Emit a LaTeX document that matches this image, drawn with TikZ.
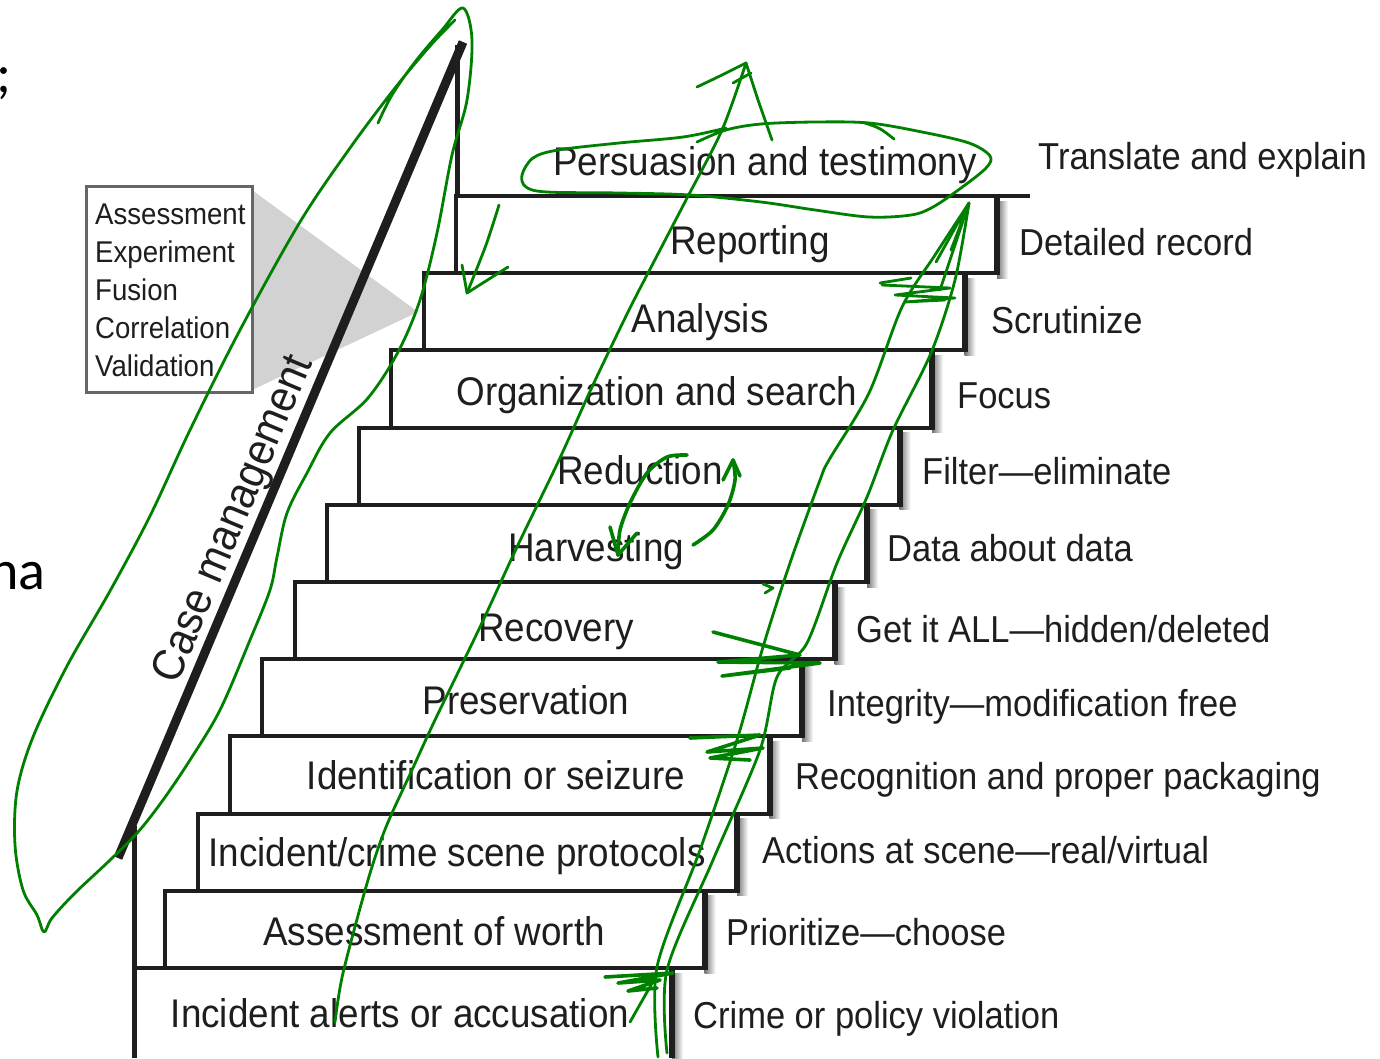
\documentclass[tikz,border=0pt]{standalone}
\usepackage{fontspec}
\setmainfont{Liberation Sans}[FakeStretch=0.92]
\newfontfamily\slidefont{Carlito}
\definecolor{ink}{HTML}{1E1E1E}
\definecolor{pen}{RGB}{0,128,0}
\definecolor{wedge}{HTML}{D2D2D2}
\begin{document}
\begin{tikzpicture}[x=1pt,y=-1pt,
  steplabel/.style={font=\fontsize{40}{40}\selectfont, text=ink, anchor=base, inner sep=0pt},
  sidelabel/.style={font=\fontsize{37.5}{37.5}\selectfont, text=ink, anchor=base west, inner sep=0pt},
  boxlabel/.style={font=\fontsize{30}{30}\selectfont, text=ink, anchor=base west, inner sep=0pt},
  stepline/.style={draw=ink, line width=4pt},
  pen/.style={draw=pen, line width=2.8pt, line cap=round, line join=round},
  thickpen/.style={pen, line width=3.6pt}]
\useasboundingbox (0,0) rectangle (1380,1058);
\fill[white] (0,0) rectangle (1380,1058);

% slide text fragments at the left edge
\node[font=\slidefont\fontsize{56}{56}\selectfont, anchor=base west, inner sep=0pt] (frag1) at (-4,92) {;};
\node[font=\slidefont\fontsize{56}{56}\selectfont, anchor=base east, inner sep=0pt] (frag2) at (46,589) {na};

% gray call-out wedge and list box
\fill[wedge] (252,190) -- (418,312) -- (252,390) -- cycle;
\draw[draw=black!60, fill=white, line width=3pt] (86,186) rectangle (252,392);
\node[boxlabel] (b1) at (95,224) {Assessment};
\node[boxlabel] (b2) at (95,262) {Experiment};
\node[boxlabel] (b3) at (95,300) {Fusion};
\node[boxlabel] (b4) at (95,338) {Correlation};
\node[boxlabel] (b5) at (95,376) {Validation};

% steps: shadows and fills
\foreach \i in {10,9,...,1}{
  \pgfmathsetmacro\L{133+32.3*\i}
  \pgfmathsetmacro\T{968-77.2*\i}
  \pgfmathsetmacro\R{672+32.5*\i}
  \pgfmathsetmacro\B{\T+77.2}
  \shade[left color=black!55, right color=white] (\R,\T+5) rectangle (\R+11,\B+5);
  \fill[white] (\L,\T) rectangle (\R,\B);
}
\shade[left color=black!55, right color=white] (672,973) rectangle (683,1058);
\foreach \i in {10,9,...,1}{
  \pgfmathsetmacro\L{133+32.3*\i}
  \pgfmathsetmacro\T{968-77.2*\i}
  \pgfmathsetmacro\R{672+32.5*\i}
  \pgfmathsetmacro\B{\T+77.2}
  \draw[stepline] (\L,\T) rectangle (\R,\B);
  \draw[draw=ink, line width=6pt] (\R,\T-2) -- (\R,\B+2);
}
\draw[stepline] (133,968) -- (672,968);
\draw[draw=ink, line width=6pt] (672,966) -- (672,1058);

% landing, post, rail
\draw[stepline] (456,196) -- (1030,196);
\draw[draw=ink, line width=5pt] (457,45) -- (457,198);
\draw[draw=ink, line width=5pt] (134,826) -- (134,1058);
\draw[draw=ink, line width=9pt] (118,858) -- (463,42);

% step labels
\node[steplabel] (p11) at (765,175) {Persuasion and testimony};
\node[steplabel] (p10) at (750,254) {Reporting};
\node[steplabel] (p9) at (700,332) {Analysis};
\node[steplabel] (p8) at (657,405) {Organization and search};
\node[steplabel] (p7) at (640,484) {Reduction};
\node[steplabel] (p6) at (596,561) {Harvesting};
\node[steplabel] (p5) at (556,641) {Recovery};
\node[steplabel] (p4) at (526,714) {Preservation};
\node[steplabel] (p3) at (496,789) {Identification or seizure};
\node[steplabel] (p2) at (457,866) {Incident/crime scene protocols};
\node[steplabel] (p1) at (434,945) {Assessment of worth};
\node[steplabel] (p0) at (400,1027) {Incident alerts or accusation};

% side labels
\node[sidelabel] (q11) at (1038,169) {Translate and explain};
\node[sidelabel] (q10) at (1019,255) {Detailed record};
\node[sidelabel] (q9) at (991,333) {Scrutinize};
\node[sidelabel] (q8) at (957,408) {Focus};
\node[sidelabel] (q7) at (922,484) {Filter—eliminate};
\node[sidelabel] (q6) at (887,561) {Data about data};
\node[sidelabel] (q5) at (856,642) {Get it ALL—hidden/deleted};
\node[sidelabel] (q4) at (827,716) {Integrity—modification free};
\node[sidelabel] (q3) at (795,789) {Recognition and proper packaging};
\node[sidelabel] (q2) at (762,863) {Actions at scene—real/virtual};
\node[sidelabel] (q1) at (726,945) {Prioritize—choose};
\node[sidelabel] (q0) at (693,1028) {Crime or policy violation};

% rail label
\node[font=\fontsize{45}{45}\selectfont, text=ink, rotate=67.3, anchor=base, inner sep=0pt] (cm) at (245,524) {Case management};

% ---- green hand annotations ----
% loop around the rail
\draw[pen] plot[smooth, tension=0.55] coordinates {(378,123) (392,95) (415,62) (442,30) (463,8) (472,40) (467,100) (452,155) (437,233) (420,300) (398,352) (368,398) (330,433) (307,473) (287,513) (277,557) (270,590) (250,640) (220,710) (190,760) (163,800) (138,832) (108,862) (75,893) (52,918) (44,932) (37,915) (23,890) (15,845) (17,791) (33,737) (67,666) (110,591) (150,516) (190,430) (240,330) (300,222) (350,148) (395,88) (430,46) (455,20)};
% loop around persuasion
\draw[pen] plot[smooth, tension=0.55] coordinates {(697,142) (726,130) (761,124) (815,122) (869,123) (922,132) (969,143) (990,156) (986,168) (961,188) (933,207) (911,215) (869,217) (815,210) (761,202) (690,195) (619,193) (547,192) (526,187) (522,175) (533,158) (558,150) (619,143) (683,137) (726,128)};
\draw[pen] (865,123) .. controls (880,128) .. (894,139);
% big up arrow on the left
\draw[pen] plot[smooth, tension=0.5] coordinates {(335,1022) (343,973) (368,880) (386,827) (412,770) (435,720) (480,627) (517,547) (559,460) (592,387) (629,310) (660,250) (686,200) (722,130) (746,63)};
\draw[pen] (697,87) -- (722,75) -- (746,63) -- (758,100) -- (772,140);
\draw[pen] (733,83) -- (751,73);
% small down arrow by Reporting
\draw[pen] plot[smooth] coordinates {(499,205) (486,245) (467,293)};
\draw[pen] (462,265) -- (467,293) -- (508,267);
% curved arrows by Reduction / Harvesting
\draw[thickpen] plot[smooth] coordinates {(693,545) (713,530) (728,505) (735,480) (733,460)};
\draw[thickpen] (723,480) -- (733,460) -- (740,476);
\draw[thickpen] plot[smooth] coordinates {(687,455) (667,457) (647,473) (630,503) (620,530) (618,555)};
\draw[thickpen] (610,527) -- (618,555) -- (637,533);
% long double stroke on the right
\draw[pen] plot[smooth, tension=0.5] coordinates {(658,1057) (657,967) (700,850) (737,740) (763,647) (790,563) (820,480) (829,460) (869,393) (902,307) (935,255) (969,203)};
\draw[pen] plot[smooth, tension=0.5] coordinates {(667,1053) (667,970) (713,860) (760,750) (777,677) (807,643) (837,563) (867,497) (893,430) (931,353) (955,280) (969,203)};
\draw[pen] (936,262) -- (969,203) -- (951,250);
\draw[pen] (940,290) -- (969,203);
% hatching marks
\draw[thickpen] (605,977) -- (673,973) -- (618,983) -- (660,980) -- (628,991) -- (657,988);
\draw[thickpen] (690,738) -- (760,735) -- (707,752) -- (763,748) -- (710,758) -- (750,760);
\draw[thickpen] (713,632) -- (800,655) -- (718,662) -- (820,663) -- (722,676) -- (790,668);
\draw[pen] (882,285) -- (950,288) -- (895,295) -- (955,298) -- (905,302) -- (945,300);
\draw[pen] (880,283) -- (911,278);
\draw[pen] (763,584) -- (773,588) -- (765,593);
\draw[pen] (630,1022) -- (655,978);
\end{tikzpicture}
\end{document}
